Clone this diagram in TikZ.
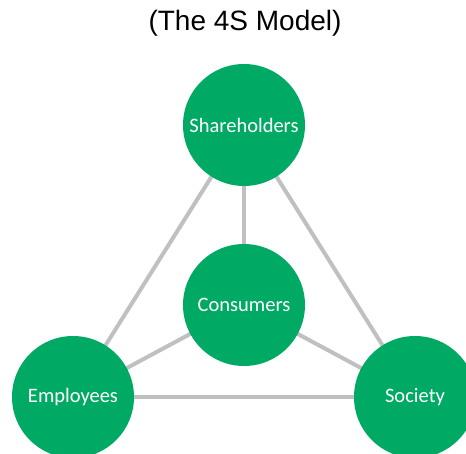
\documentclass[tikz,border=0pt]{standalone}
\usepackage{fontspec}
\setmainfont{Liberation Sans}
\newfontfamily\calfont{Carlito}
\definecolor{stgreen}{RGB}{0,170,100}
\definecolor{linegray}{RGB}{192,192,192}
\begin{document}
\begin{tikzpicture}[x=1pt,y=-1pt,
  stake/.style={circle,fill=stgreen,draw=none,minimum size=122pt,inner sep=0pt,
    text=white,font=\calfont\fontsize{20.5}{24}\selectfont},
  link/.style={draw=linegray,line width=4pt}]
\useasboundingbox (0,0) rectangle (466,454);
\clip (0,0) rectangle (466,454);
\node[font=\fontsize{28}{32}\selectfont] (title) at (245,23) {(The 4S Model)};
\coordinate (sh) at (244,125);
\coordinate (co) at (244,305);
\coordinate (em) at (73,397);
\coordinate (so) at (415,397);
\draw[link] (sh) -- (em);
\draw[link] (sh) -- (so);
\draw[link] (sh) -- (co);
\draw[link] (co) -- (em);
\draw[link] (co) -- (so);
\draw[link] (em) -- (so);
\node[stake] (shn) at (sh) {Shareholders};
\node[stake] (con) at (co) {Consumers};
\node[stake] (emn) at (em) {Employees};
\node[stake] (son) at (so) {Society};
\end{tikzpicture}
\end{document}
